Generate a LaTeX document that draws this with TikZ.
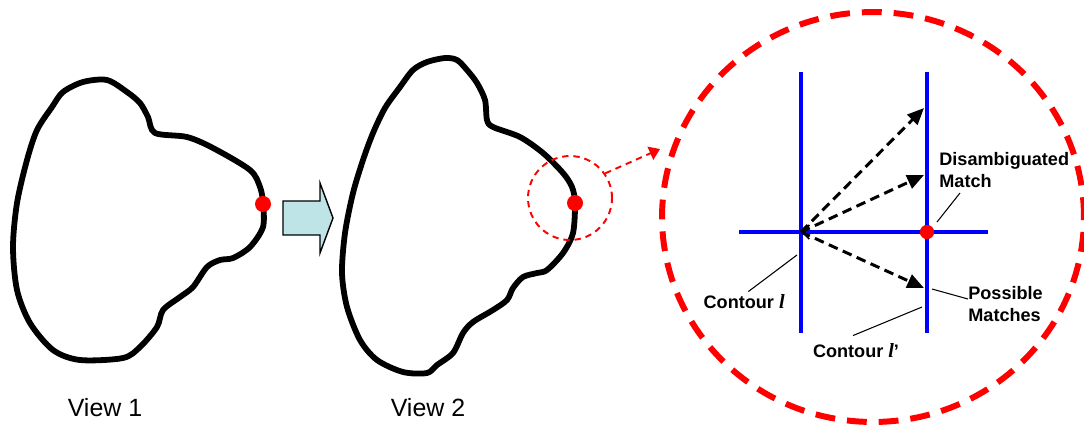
\documentclass[tikz,border=0pt]{standalone}
\usepackage{fontspec}
\setmainfont{Liberation Sans}
\newfontfamily\contourfont{Liberation Serif}
\usepackage{tikz}
\usetikzlibrary{calc}
\usetikzlibrary{arrows.meta}
\usetikzlibrary{shapes.geometric}
\definecolor{arrowcyan}{RGB}{190,228,232}
\newcommand{\cl}{{\contourfont\fontsize{11.5}{12.5}\selectfont\bfseries\itshape l}}

\begin{document}
\begin{tikzpicture}[x=0.02cm, y=-0.02cm,
    contour/.style={line width=3.3pt, line join=round},
    dot/.style={circle, fill=red, inner sep=0pt, minimum size=0.32cm},
    lens/.style={circle, draw=red, line width=1.1pt, dash pattern=on 3.6pt off 2.8pt, inner sep=0pt, minimum size=1.68cm},
    zoomring/.style={ellipse, draw=red, line width=3.4pt, dash pattern=on 11.3pt off 6.8pt, inner sep=0pt, minimum width=8.44cm, minimum height=8.2cm},
    gridline/.style={blue, line width=2.3pt},
    dasharrow/.style={line width=1.7pt, dash pattern=on 5.5pt off 3.2pt, -{Triangle[length=9.5pt, width=8pt]}},
    leader/.style={line width=0.6pt},
    lbl/.style={font=\fontsize{10.3}{12.5}\selectfont\bfseries, inner sep=0pt, align=left},
    view/.style={font=\fontsize{14.2}{16}\selectfont, inner sep=0pt}]
    \useasboundingbox (0,0) rectangle (1084,424);

    % view 1 and view 2 outlines
    \draw[contour] plot[smooth cycle, tension=0.5] coordinates {(107,80) (83,82) (63,92) (52,107) (37,130) (27,160) (17,203) (13,247) (17,290) (30,323) (53,350) (80,360) (123,358) (140,347) (157,327) (163,310) (180,297) (193,287) (207,267) (220,260) (233,258) (250,247) (263,227) (263,203) (260,187) (250,170) (213,148) (187,137) (155,133) (148,117) (140,103) (127,92)};
    \draw[contour] plot[smooth cycle, tension=0.5] coordinates {(445,58) (427,62) (413,70) (400,87) (385,108) (373,133) (363,160) (353,193) (345,233) (342,273) (347,307) (360,340) (377,360) (403,372) (427,373) (437,365) (453,353) (463,333) (473,322) (493,310) (507,300) (513,288) (523,277) (537,273) (547,270) (563,253) (573,233) (575,203) (572,187) (563,173) (543,153) (520,137) (493,127) (487,120) (485,100) (477,83) (467,70) (457,60)};
    \node[dot] (p1) at (263,204) {};
    \node[dot] (p2) at (575,203) {};

    \draw[fill=arrowcyan, line width=0.8pt, line join=miter] (283,201) -- (320,201) -- (320,183) -- (333,218) -- (320,253) -- (320,235) -- (283,235) -- cycle;

    \node[view] (v1) at (105,408) {View 1};
    \node[view] (v2) at (428,408) {View 2};

    % zoomed part
    \node[lens] (lens) at (570,198) {};
    \node[zoomring] (zoom) at (873,217) {};
    \coordinate (lensend) at (660,149);
    \draw[red, line width=1.1pt, dash pattern=on 3.6pt off 2.8pt, -{Triangle[length=6pt, width=8pt]}] (lens.35) -- (lensend);

    \coordinate (la) at (801,72);
    \coordinate (lb) at (801,333);
    \coordinate (ra) at (927,72);
    \coordinate (rb) at (927,333);
    \coordinate (ha) at (739,232);
    \coordinate (hb) at (988,232);
    \coordinate (cl) at (801,232);
    \coordinate (t1) at (924,108);
    \coordinate (t2) at (924,175);
    \coordinate (t3) at (924,288);
    \node[dot, minimum size=0.28cm] (match) at (927,232) {};
    \draw[line width=1pt, -{Straight Barb[length=4pt, width=8pt]}] (match) -- (cl);
    \draw[gridline] (la) -- (lb);
    \draw[gridline] (ra) -- (rb);
    \draw[gridline] (ha) -- (hb);
    \node[dot, minimum size=0.28cm] at (match) {};
    \draw[dasharrow] (cl) -- (t1);
    \draw[dasharrow] (cl) -- (t2);
    \draw[dasharrow] (cl) -- (t3);

    \node[lbl, anchor=north west] (dis) at (939,152) {Disambiguated\\Match};
    \node[lbl, anchor=west] (pos) at (968,304) {Possible\\Matches};
    \node[lbl, anchor=east] (cont) at (785,302) {Contour \cl};
    \node[lbl] (cont2) at (856,351) {Contour \cl’};
    \coordinate (e1) at (937,222);
    \coordinate (e2) at (932,289);
    \coordinate (e3) at (797,255);
    \coordinate (e4) at (922,307);
    \draw[leader] ($(dis.south west)+(21,5)$) -- (e1);
    \draw[leader] ($(pos.west)+(0,-5)$) -- (e2);
    \draw[leader] ($(cont.north west)+(45,-3)$) -- (e3);
    \draw[leader] ($(cont2.north)+(-3,-8)$) -- (e4);
\end{tikzpicture}
\end{document}
